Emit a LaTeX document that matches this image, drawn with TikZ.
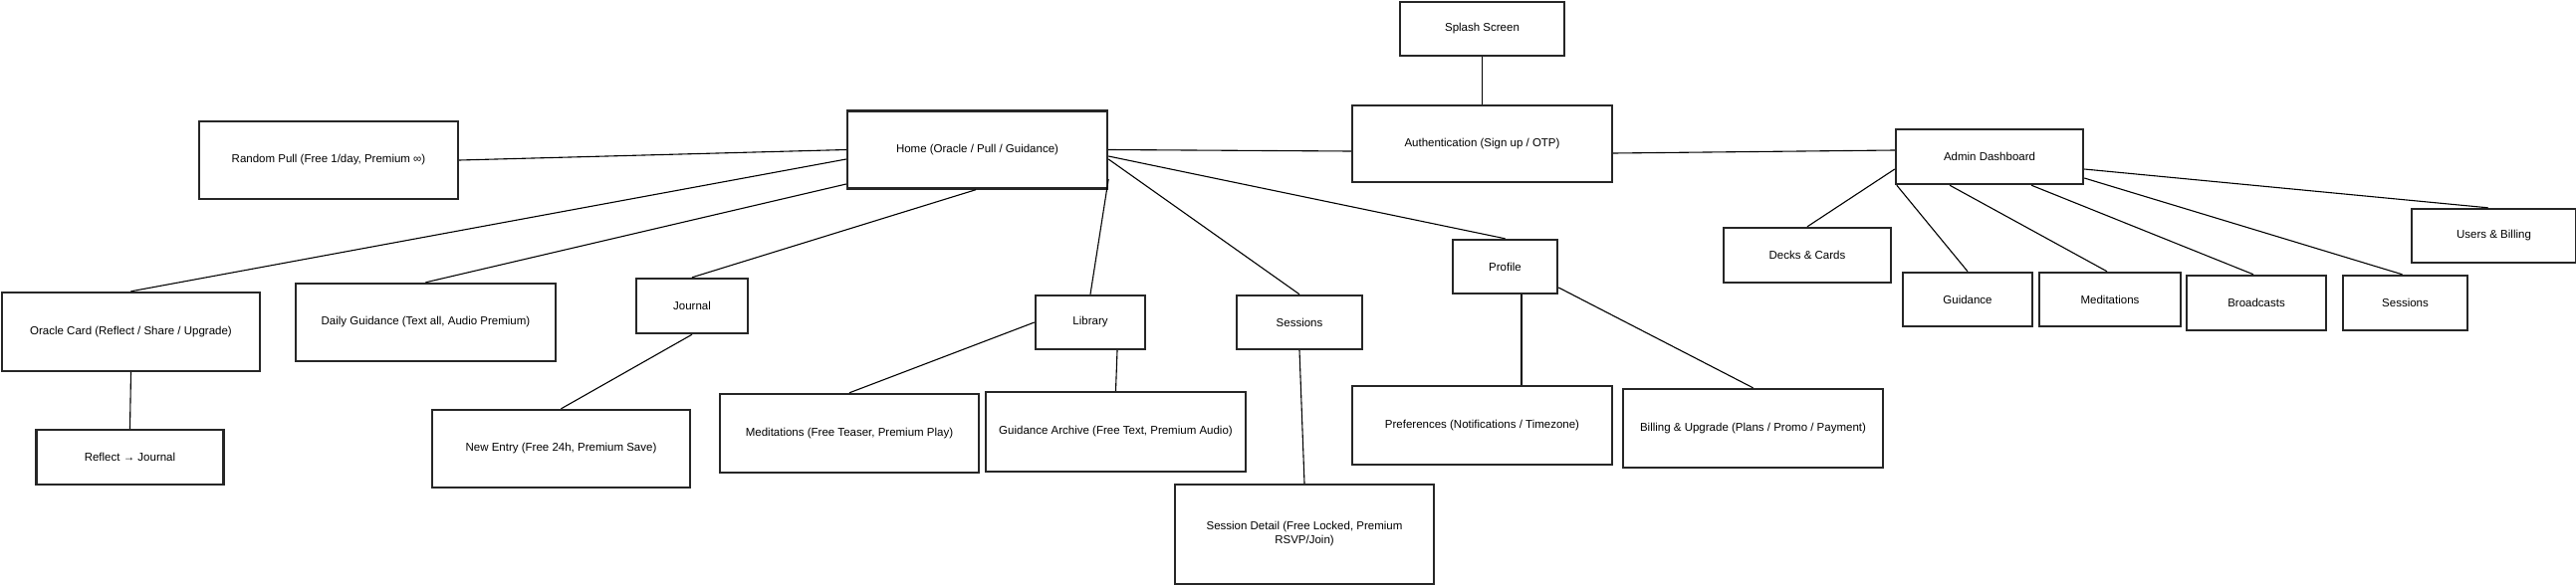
\documentclass[tikz,border=0pt]{standalone}
\usepackage{fontspec}
\setmainfont{Liberation Sans}
\begin{document}
\begin{tikzpicture}[
      x=1pt,y=-1pt,
      screen/.style={draw=black!85,line width=2.4pt,fill=white,inner sep=2pt,align=center,font=\fontsize{11.5}{14}\selectfont},
      link/.style={line width=1.1pt,black}
    ]
    \useasboundingbox (0,0) rectangle (2587,589);
    % Draw the main screens.
    \node[screen,minimum width=165,minimum height=54] (splash) at (1488.5,29) {Splash Screen};
    \node[screen,minimum width=261,minimum height=77] (auth) at (1488.5,144.5) {Authentication (Sign up / OTP)};
    \node[screen,minimum width=261,minimum height=78] (home) at (981.5,150.5) {Home (Oracle / Pull / Guidance)};
    \node[screen,minimum width=188,minimum height=55] (admin) at (1998,157.5) {Admin Dashboard};
    % Draw the home children.
    \node[screen,minimum width=260,minimum height=78] (pull) at (330,161) {Random Pull (Free 1/day, Premium ∞)};
    \node[screen,minimum width=259,minimum height=79] (oracle) at (131.5,333.5) {Oracle Card (Reflect / Share / Upgrade)};
    \node[screen,minimum width=188,minimum height=55] (reflect) at (130.5,459.5) {Reflect → Journal};
    \node[screen,minimum width=261,minimum height=78] (daily) at (427.5,324) {Daily Guidance (Text all, Audio Premium)};
    \node[screen,minimum width=112,minimum height=55] (journal) at (695,307.5) {Journal};
    \node[screen,minimum width=259,minimum height=78] (entry) at (563.5,451) {New Entry (Free 24h, Premium Save)};
    \node[screen,minimum width=110,minimum height=54] (library) at (1095,324) {Library};
    \node[screen,minimum width=260,minimum height=79] (libmed) at (853,435.5) {Meditations (Free Teaser, Premium Play)};
    \node[screen,minimum width=261,minimum height=80] (archive) at (1120.5,434) {Guidance Archive (Free Text, Premium Audio)};
    \node[screen,minimum width=126,minimum height=54] (sessions) at (1305,324) {Sessions};
    \node[screen,minimum width=260,minimum height=100] (detail) at (1310,537) {Session Detail (Free Locked, Premium\\RSVP/Join)};
    \node[screen,minimum width=105,minimum height=54] (profile) at (1511.5,268) {Profile};
    \node[screen,minimum width=261,minimum height=79] (prefs) at (1488.5,427.5) {Preferences (Notifications / Timezone)};
    \node[screen,minimum width=261,minimum height=79] (billing) at (1760.5,430.5) {Billing \& Upgrade (Plans / Promo / Payment)};
    % Draw the admin children.
    \node[screen,minimum width=168,minimum height=55] (decks) at (1815,256.5) {Decks \& Cards};
    \node[screen,minimum width=130,minimum height=54] (aguide) at (1976,301) {Guidance};
    \node[screen,minimum width=142,minimum height=54] (amedit) at (2119,301) {Meditations};
    \node[screen,minimum width=140,minimum height=55] (broad) at (2266,304.5) {Broadcasts};
    \node[screen,minimum width=125,minimum height=55] (asess) at (2415.5,304.5) {Sessions};
    \node[screen,minimum width=165,minimum height=54] (users) at (2504.5,237) {Users \& Billing};
    % Draw the links.
    \draw[link] (splash.south) -- (auth.north);
    \draw[link] (home.east) -- ([yshift=-7.5pt]auth.west);
    \draw[link] ([yshift=-9.5pt]auth.east) -- ([yshift=6.5pt]admin.west);
    \draw[link] (home.west) -- (pull.east);
    \draw[link] ([yshift=-9.5pt]home.west) -- (oracle.north);
    \draw[link] ([yshift=-34.5pt]home.west) -- (daily.north);
    \draw[link] ([xshift=-1.5pt]home.south) -- (journal.north);
    \draw[link] ([yshift=-29.5pt]home.east) -- (library.north);
    \draw[link] ([yshift=-9.5pt]home.east) -- (sessions.north);
    \draw[link] ([yshift=-6.5pt]home.east) -- (profile.north);
    \draw[link] (oracle.south) -- (reflect.north);
    \draw[link] (journal.south) -- (entry.north);
    \draw[link] (library.west) -- (libmed.north);
    \draw[link] ([xshift=27pt]library.south) -- (archive.north);
    \draw[link] (sessions.south) -- (detail.north);
    \draw[link] ([xshift=16.5pt]profile.south) -- ([xshift=39.5pt]prefs.north);
    \draw[link] ([yshift=-21pt]profile.east) -- (billing.north);
    \draw[link] ([yshift=-12.5pt]admin.west) -- (decks.north);
    \draw[link] ([xshift=2pt]admin.south west) -- (aguide.north);
    \draw[link] ([xshift=-40pt]admin.south) -- ([xshift=-3pt]amedit.north);
    \draw[link] ([xshift=42pt]admin.south) -- ([xshift=-3pt]broad.north);
    \draw[link] ([yshift=-21.5pt]admin.east) -- ([xshift=-3pt]asess.north);
    \draw[link] ([yshift=-12.5pt]admin.east) -- ([xshift=-6pt]users.north);
\end{tikzpicture}
\end{document}
